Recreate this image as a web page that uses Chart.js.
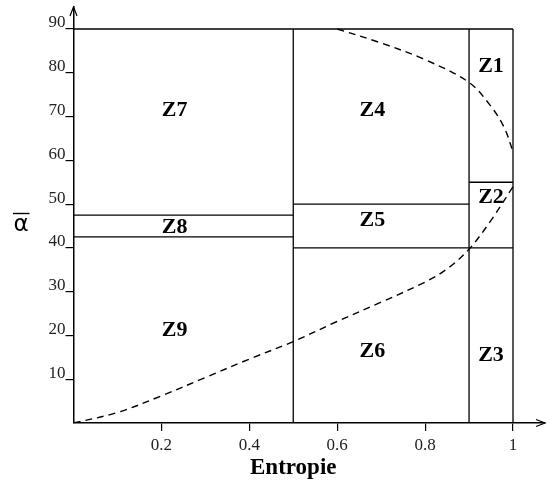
<!DOCTYPE html>
<html>
<head>
<meta charset="utf-8">
<script src="https://cdn.jsdelivr.net/npm/chart.js@4"></script>
<style>
body{margin:0;background:#fff}
</style>
</head>
<body>
<canvas id="plan" width="548" height="484"></canvas>
<script>
// ticks des axes
var xTicks = [0.2, 0.4, 0.6, 0.8, 1]
var yTicks = [10, 20, 30, 40, 50, 60, 70, 80, 90]

// limites des zones : [h debut, h fin, alpha] et [h, alpha debut, alpha fin]
var lignesH = [[0, 1, 90], [0, 0.5, 47.5], [0, 0.5, 42.5], [0.5, 0.9, 50], [0.5, 0.9, 40], [0.9, 1, 55], [0.9, 1, 40]]
var lignesV = [[0.5, 0, 90], [0.9, 0, 90], [1, 0, 90]]

// courbes limites (pointillés)
var basH = [0, 0.1, 0.2, 0.3, 0.4, 0.5, 0.6, 0.7, 0.8, 0.85, 0.9, 0.95, 1]
var basAlpha = [0, 2.4, 6.2, 10.4, 14.6, 18.6, 23.2, 27.6, 32.2, 35.2, 39.7, 46.3, 54]
var hautH = [0.6, 0.7, 0.8, 0.9, 0.95, 0.98, 1]
var hautAlpha = [90, 86.8, 83, 77.8, 72.3, 67.5, 62]

// noms des zones
var zones = ["Z1", "Z2", "Z3", "Z4", "Z5", "Z6", "Z7", "Z8", "Z9"]
var zonesH = [0.95, 0.95, 0.95, 0.68, 0.68, 0.68, 0.23, 0.23, 0.23]
var zonesAlpha = [81.5, 51.6, 15.5, 71.5, 46.4, 16.3, 71.5, 44.6, 21.2]

var jeux = []
function trait(pts, pointille){
	jeux.push({
		data: pts,
		borderColor: "#000",
		borderWidth: pointille ? 1.4 : 1.3,
		borderDash: pointille ? [7, 5] : [],
		pointRadius: 0,
		fill: false,
		tension: pointille ? 0.35 : 0
	})
}
for(var i=0;i<lignesH.length;i++){
	trait([{x: lignesH[i][0], y: lignesH[i][2]}, {x: lignesH[i][1], y: lignesH[i][2]}], false)
}
for(var i=0;i<lignesV.length;i++){
	trait([{x: lignesV[i][0], y: lignesV[i][1]}, {x: lignesV[i][0], y: lignesV[i][2]}], false)
}
var pb = []
for(var i=0;i<basH.length;i++){ pb.push({x: basH[i], y: basAlpha[i]}) }
trait(pb, true)
var ph = []
for(var i=0;i<hautH.length;i++){ ph.push({x: hautH[i], y: hautAlpha[i]}) }
trait(ph, true)

var deco = {
	id: "deco",
	afterDraw: function(chart){
		var ctx = chart.ctx
		var sx = chart.scales.x, sy = chart.scales.y
		var ca = chart.chartArea
		ctx.save()
		ctx.fillStyle = "#000"
		ctx.font = "bold 22px 'Liberation Serif'"
		ctx.textAlign = "center"
		ctx.textBaseline = "middle"
		for(var i=0;i<zones.length;i++){
			ctx.fillText(zones[i], sx.getPixelForValue(zonesH[i]), sy.getPixelForValue(zonesAlpha[i]))
		}
		// titre axe x
		ctx.font = "bold 23px 'Liberation Serif'"
		ctx.textBaseline = "alphabetic"
		ctx.fillText("Entropie", sx.getPixelForValue(0.5), 474)
		// alpha barre
		ctx.font = "23px 'DejaVu Sans'"
		ctx.fillText("α", 21, 231)
		ctx.strokeStyle = "#000"
		ctx.lineWidth = 1.4
		ctx.beginPath()
		ctx.moveTo(13, 213.5)
		ctx.lineTo(29.5, 213.5)
		ctx.stroke()
		// fleches
		ctx.lineWidth = 1.2
		ctx.beginPath()
		ctx.moveTo(ca.left - 3.5, ca.top + 9)
		ctx.lineTo(ca.left, ca.top)
		ctx.lineTo(ca.left + 3.5, ca.top + 9)
		ctx.moveTo(ca.right - 9, ca.bottom - 3.5)
		ctx.lineTo(ca.right, ca.bottom)
		ctx.lineTo(ca.right - 9, ca.bottom + 3.5)
		ctx.stroke()
		ctx.restore()
	}
}

new Chart("plan", {
	type: "line",
	data: {datasets: jeux},
	options: {
		responsive: false,
		animation: false,
		layout: {padding: {top: 7, right: 3, left: 0, bottom: 0}},
		plugins: {legend: {display: false}, tooltip: {enabled: false}},
		scales: {
			x: {
				type: "linear", min: 0, max: 1.0728,
				afterBuildTicks: function(s){ s.ticks = xTicks.map(function(v){ return {value: v} }) },
				afterFit: function(s){ s.height = 61 },
				grid: {drawOnChartArea: false, tickLength: 8, color: "#000", lineWidth: 1.2},
				border: {color: "#000", width: 1.5},
				ticks: {color: "#222", font: {family: "Liberation Serif", size: 17}, padding: 4, maxRotation: 0, autoSkip: false,
					callback: function(v){ return String(v) }}
			},
			y: {
				type: "linear", min: 0, max: 95.03,
				afterBuildTicks: function(s){ s.ticks = yTicks.map(function(v){ return {value: v} }) },
				afterFit: function(s){ s.width = 73.5 },
				grid: {drawOnChartArea: false, tickLength: 8, color: "#000", lineWidth: 1.2},
				border: {color: "#000", width: 1.5},
				ticks: {color: "#222", font: {family: "Liberation Serif", size: 17, lineHeight: 0.7}, padding: 0, labelOffset: -6, autoSkip: false,
					callback: function(v){ return String(v) }}
			}
		}
	},
	plugins: [deco]
})
</script>
</body>
</html>
